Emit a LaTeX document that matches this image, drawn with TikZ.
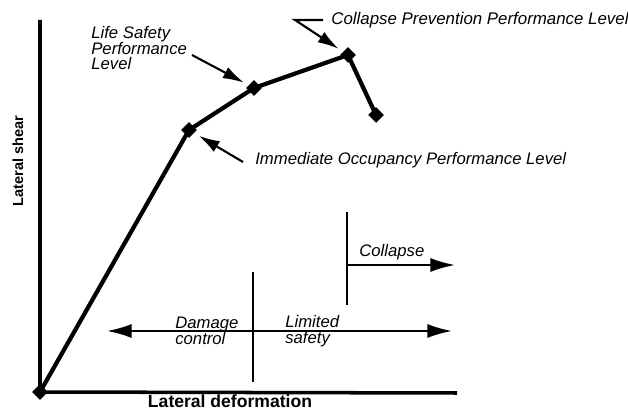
\documentclass[tikz,border=0pt]{standalone}
\usepackage{fontspec}
\setmainfont{Liberation Sans}
\usetikzlibrary{arrows.meta, shapes.geometric, positioning}
\tikzset{point/.style={diamond,fill=black,inner sep=0pt,minimum size=9pt},
    curve/.style={draw,line width=2.4pt,line join=miter},
    axis/.style={draw,line width=2pt},
    level/.style={font=\fontsize{9.5}{8.9}\selectfont\itshape,inner sep=0pt,align=left},
    axis label/.style={font=\bfseries,inner sep=0pt},
    zone/.style={draw,line width=1.2pt},
    zone arrow/.style={zone,-{Latex[length=14pt,width=8pt]}},
    pointer/.style={draw,line width=1.2pt,-{Latex[length=12pt,width=7pt]},shorten >=3pt}}

\begin{document}
\begin{tikzpicture}[x=0.02cm,y=-0.02cm]
    \useasboundingbox (0,0) rectangle (628,411);

    % Axes
    \node[point] (o) at (40,392) {};
    \coordinate (ytop) at (40,20);
    \coordinate (xend) at (457,393);
    \draw[axis] (ytop) -- (o.center) -- (xend);
    \node[axis label,rotate=90,font=\fontsize{8.3}{9}\selectfont\bfseries] (ylab) at (18,161) {Lateral shear};
    \node[axis label,font=\fontsize{10}{11}\selectfont\bfseries,anchor=base] (xlab) at (230,407.5) {Lateral deformation};

    % Pushover curve with performance points
    \node[point] (io)  at (189,130) {};
    \node[point] (ls)  at (254,88)  {};
    \node[point] (cp)  at (348,55)  {};
    \node[point] (fin) at (376,115) {};
    \draw[curve] (o.center) -- (io.center) -- (ls.center) -- (cp.center) -- (fin.center);

    % Performance level labels
    \node[level,anchor=north west] (lsl) at (91,26) {Life Safety\\Performance\\Level};
    \node[level,font=\fontsize{9.6}{10}\selectfont\itshape,anchor=west] (cpl) at (331,20) {Collapse Prevention Performance Level};
    \node[level,anchor=west] (iol) at (255,160) {Immediate Occupancy Performance Level};
    \coordinate (lsa) at (192,55);
    \coordinate (ioa) at (243,162);
    \coordinate (cpa) at (323,20);
    \draw[pointer] (lsa) -- (ls);
    \draw[pointer] (ioa) -- (io);
    \draw[pointer] (cpa) -- (295,20) -- (cp);

    % Damage zones
    \coordinate (d1t) at (253,272);
    \coordinate (d1b) at (253,382);
    \coordinate (zl) at (107,331);
    \coordinate (zr) at (452,331);
    \draw[zone] (d1t) -- (d1b);
    \draw[zone arrow] (d1t |- zl) -- (zl);
    \draw[zone arrow] (d1t |- zr) -- (zr);
    \node[level,font=\fontsize{9.5}{9.2}\selectfont\itshape,anchor=west] (dc) at (175,331) {Damage\\control};
    \node[level,font=\fontsize{9.5}{9.2}\selectfont\itshape,anchor=west] (lsz) at (285,331) {Limited\\safety};

    \coordinate (d2t) at (347,212);
    \coordinate (d2b) at (347,305);
    \coordinate (ce) at (455,265);
    \draw[zone] (d2t) -- (d2b);
    \draw[zone arrow] (d2t |- ce) -- (ce);
    \node[level,anchor=west] (col) at (359,252) {Collapse};
\end{tikzpicture}
\end{document}
